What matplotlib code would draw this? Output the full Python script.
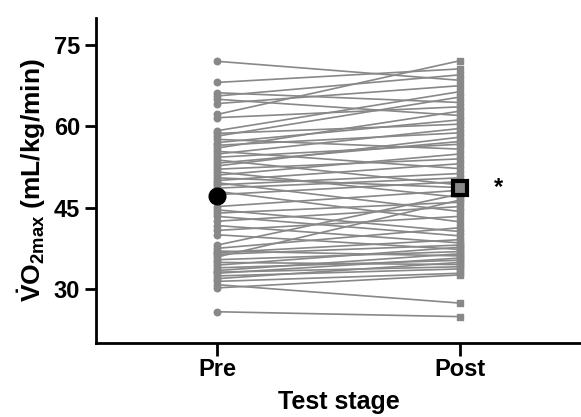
from matplotlib import pyplot as plt
import numpy as np

plt.rcParams.update({'font.family': 'Liberation Sans', 'font.weight': 'bold',
                     'mathtext.fontset': 'custom',
                     'mathtext.rm': 'Liberation Sans:bold',
                     'mathtext.bf': 'Liberation Sans:bold',
                     'mathtext.it': 'Liberation Sans:bold'})

stages = ["Pre", "Post"]
pre = [72.0, 68.1, 66.2, 65.6, 65.0, 64.2, 62.2, 61.6, 59.2, 58.7,
       58.2, 57.6, 57.0, 56.5, 56.0, 55.4, 54.9, 54.3, 53.8, 53.2,
       52.7, 52.1, 51.6, 51.0, 50.5, 50.0, 49.6, 49.2, 48.6, 48.0,
       47.4, 45.2, 44.6, 44.0, 43.4, 42.5, 41.7, 40.8, 40.0, 38.1,
       37.5, 37.0, 36.7, 36.4, 35.9, 35.4, 34.9, 34.4, 33.9, 33.4,
       33.1, 32.9, 32.4, 31.9, 31.4, 30.8, 30.2, 25.8]
post = [68.5, 70.6, 64.4, 69.5, 62.0, 67.5, 72.1, 63.6, 66.4, 60.4,
        65.4, 55.8, 61.2, 58.8, 62.8, 52.2, 59.6, 56.7, 49.2, 57.2,
        58.0, 54.0, 46.9, 54.9, 48.7, 53.1, 44.3, 51.3, 50.5, 42.4,
        49.8, 48.2, 40.6, 46.0, 39.8, 45.2, 38.5, 43.4, 37.3, 47.5,
        41.3, 36.1, 39.1, 38.1, 46.4, 36.9, 34.5, 37.7, 35.3, 36.5,
        34.1, 35.7, 33.7, 34.9, 32.9, 27.4, 32.6, 24.9]

grey = '#888888'
fig = plt.figure(figsize=(5.81, 4.17), dpi=100)
ax = fig.add_axes([0.165, 0.177, 0.835, 0.78])

for a, b in zip(pre, post):
    ax.plot([0, 1], [a, b], color=grey, linewidth=1.2, zorder=2)
ax.scatter(np.zeros(len(pre)), pre, s=22, marker='o', color=grey, zorder=3)
ax.scatter(np.ones(len(post)), post, s=22, marker='s', color=grey, zorder=3)

# group means
ax.plot(0, np.mean(pre), marker='o', markersize=12, color='black', zorder=4)
ax.plot(1, np.mean(post), marker='s', markersize=10, markerfacecolor=grey,
        markeredgecolor='black', markeredgewidth=3, zorder=4)
ax.text(1.16, np.mean(post), '*', fontsize=17, ha='center', va='center')

ax.set_xlim(-0.5, 1.5)
ax.set_ylim(20, 80)
ax.set_xticks([0, 1])
ax.set_xticklabels(stages)
ax.set_yticks([30, 45, 60, 75])
ax.tick_params(width=2, length=8, labelsize=17)
ax.tick_params(axis='x', length=9, pad=2)
for s in ['top', 'right']:
    ax.spines[s].set_visible(False)
for s in ['left', 'bottom']:
    ax.spines[s].set_linewidth(2)

ax.set_xlabel("Test stage", fontsize=18, fontweight='bold', labelpad=6)
ax.set_ylabel(r"$\dot{\mathrm{V}}\mathrm{O}_{\mathrm{2max}}$ (mL/kg/min)",
              fontsize=19, fontweight='bold', labelpad=4)

plt.savefig("out.png", dpi=100)
